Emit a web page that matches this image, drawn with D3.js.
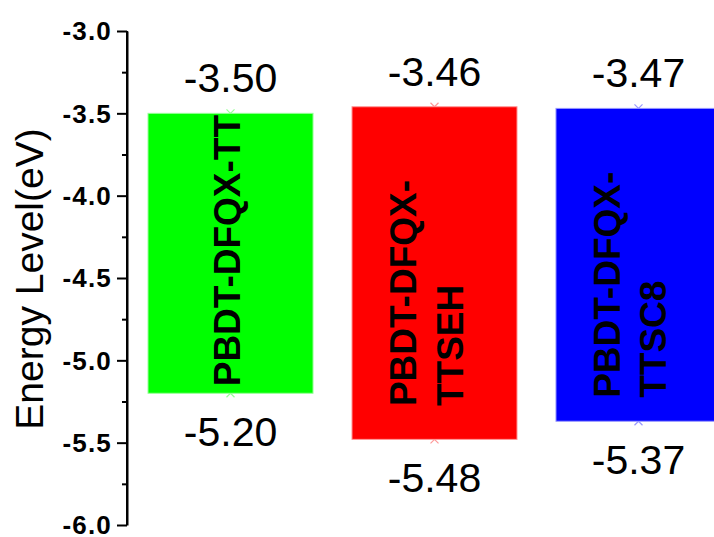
<!DOCTYPE html>
<html>
<head>
<meta charset="utf-8">
<title>Energy Level</title>
<script src="https://d3js.org/d3.v7.min.js"></script>
<style>
  body { margin: 0; background: #fff; }
  svg { display: block; font-family: Arial, "Liberation Sans", sans-serif; }
  .axis path, .axis line { stroke: #000; stroke-width: 2px; }
  .axis text { font-family: Arial, "Liberation Sans", sans-serif; font-size: 26px; font-weight: bold; letter-spacing: 1.2px; fill: #000; }
  .value { font-size: 41px; fill: #000; text-anchor: middle; }
  .name { font-size: 37px; font-weight: bold; fill: #000; }
</style>
</head>
<body>
<script>
// polymer names, LUMO (top) and HOMO (bottom) levels in eV
var categories = ["PBDT-DFQX-TT", "PBDT-DFQX-TTSEH", "PBDT-DFQX-TTSC8"];
var nameLines = [["PBDT-DFQX-TT"], ["PBDT-DFQX-", "TTSEH"], ["PBDT-DFQX-", "TTSC8"]];
var lumo = [-3.50, -3.46, -3.47];
var homo = [-5.20, -5.48, -5.37];
var colors = ["#00ff00", "#ff0000", "#0000ff"];
var markColors = ["#99ff99", "#ff9999", "#9999ff"];
var majorTicks = [-3.0, -3.5, -4.0, -4.5, -5.0, -5.5, -6.0];
var minorTicks = [-3.25, -3.75, -4.25, -4.75, -5.25, -5.75];

var width = 714, height = 537;

var svg = d3.select("body").append("svg")
    .attr("width", width)
    .attr("height", height);

var y = d3.scaleLinear()
    .domain([-3.0, -6.0])
    .range([31, 525]);

var x = d3.scaleBand()
    .domain(categories)
    .range([148, 721])
    .paddingInner(0.191)
    .paddingOuter(0);

var axisX = 127;

// markers sit behind the bars, so only half of each "x" shows
var marks = svg.append("g");
categories.forEach(function(c, i) {
  [lumo[i], homo[i]].forEach(function(v) {
    var cx = x(c) + x.bandwidth() / 2, cy = y(v), s = 4;
    marks.append("path")
      .attr("d", "M" + (cx - s) + "," + (cy - s) + "L" + (cx + s) + "," + (cy + s) +
                 "M" + (cx - s) + "," + (cy + s) + "L" + (cx + s) + "," + (cy - s))
      .attr("stroke", markColors[i])
      .attr("stroke-width", 1.2)
      .attr("fill", "none");
  });
});

// bars
svg.append("g").selectAll("rect")
  .data(categories)
  .enter().append("rect")
    .attr("x", function(d) { return x(d); })
    .attr("y", function(d, i) { return y(lumo[i]); })
    .attr("width", x.bandwidth())
    .attr("height", function(d, i) { return y(homo[i]) - y(lumo[i]); })
    .attr("fill", function(d, i) { return colors[i]; })
    .attr("stroke", function(d, i) { return markColors[i]; })
    .attr("stroke-width", 1);

// names written up the bars
categories.forEach(function(c, i) {
  var cx = x(c) + x.bandwidth() / 2;
  var cy = (y(lumo[i]) + y(homo[i])) / 2;
  var lines = nameLines[i];
  lines.forEach(function(t, j) {
    var bx = cx + 9.5 - (lines.length - 1) * 28 + j * 46.5;
    var by = cy + 133;
    svg.append("text")
      .attr("class", "name")
      .attr("transform", "translate(" + bx + "," + by + ") rotate(-90)")
      .text(t);
  });
});

// value labels
svg.append("g").selectAll("text.top")
  .data(categories)
  .enter().append("text")
    .attr("class", "value")
    .attr("x", function(d) { return x(d) + x.bandwidth() / 2; })
    .attr("y", function(d, i) { return y(lumo[i]) - 21; })
    .text(function(d, i) { return lumo[i].toFixed(2); });

svg.append("g").selectAll("text.bot")
  .data(categories)
  .enter().append("text")
    .attr("class", "value")
    .attr("x", function(d) { return x(d) + x.bandwidth() / 2; })
    .attr("y", function(d, i) { return y(homo[i]) + 53; })
    .text(function(d, i) { return homo[i].toFixed(2); });

// y axis
svg.append("g")
    .attr("class", "axis")
    .attr("transform", "translate(" + axisX + ",0)")
    .call(d3.axisLeft(y).tickValues(minorTicks).tickSize(5).tickSizeOuter(0).tickFormat(""));

var yAxis = svg.append("g")
    .attr("class", "axis")
    .attr("transform", "translate(" + axisX + ",0)")
    .call(d3.axisLeft(y).tickValues(majorTicks).tickSize(10).tickSizeOuter(0)
      .tickFormat(function(d) { return d.toFixed(1); }));
yAxis.selectAll("text").attr("x", -15).attr("dy", "0.34em");
yAxis.select(".domain").attr("d", "M0," + y(-3.0) + "V" + y(-6.0));

svg.append("text")
    .attr("transform", "translate(43,279) rotate(-90)")
    .attr("text-anchor", "middle")
    .style("font-size", "39px")
    .text("Energy Level(eV)");
</script>
</body>
</html>
